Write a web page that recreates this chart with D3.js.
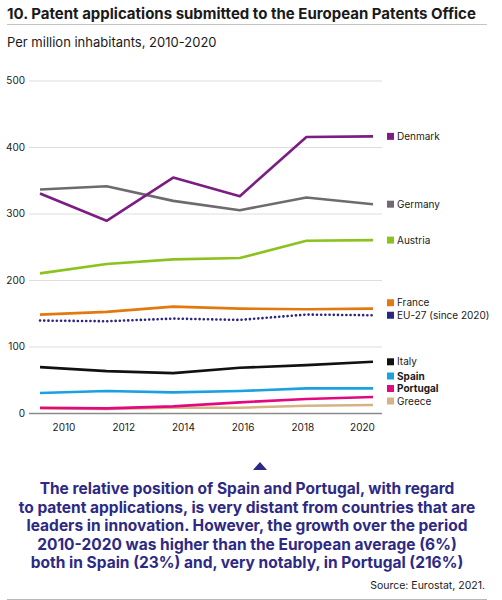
<!DOCTYPE html>
<html>
<head>
<meta charset="utf-8">
<script src="https://cdn.jsdelivr.net/npm/d3@7"></script>
<style>
  html, body { margin: 0; padding: 0; background: #fff; }
  svg { display: block; font-family: Inter, "Open Sans", sans-serif; }
</style>
</head>
<body>
<div class="chart"></div>
<script>
// values (per million inhabitants)
const years = [2010, 2012, 2014, 2016, 2018, 2020]
const countries = ['Denmark', 'Germany', 'Austria', 'France', 'EU-27 (since 2020)', 'Italy', 'Spain', 'Portugal', 'Greece']
const colors = ['#7c1d82', '#6f6a70', '#8cc21e', '#e2790f', '#2b2683', '#111111', '#1aa1df', '#e4087f', '#d4b384']
const denmark  = [330, 289, 354, 326, 415, 416]
const germany  = [336, 341, 319, 305, 324, 314]
const austria  = [210, 224, 231, 233, 259, 260]
const france   = [148, 152, 160, 157, 156, 157]
const eu27     = [139, 138, 142, 140, 148, 147]
const italy    = [69, 63, 60, 68, 72, 77]
const spain    = [30, 33, 31, 33, 37, 37]
const portugal = [8, 7, 10, 16, 21, 24]
const greece   = [7, 6, 8, 8, 11, 12]
const yTicks = [0, 100, 200, 300, 400, 500]
const boldNames = ['Spain', 'Portugal']

const note = [
  'The relative position of Spain and Portugal, with regard',
  'to patent applications, is very distant from countries that are',
  'leaders in innovation. However, the growth over the period',
  '2010-2020 was higher than the European average (6%)',
  'both in Spain (23%) and, very notably, in Portugal (216%)'
]

const values = [denmark, germany, austria, france, eu27, italy, spain, portugal, greece]
const series = countries.map((name, i) => ({ name, color: colors[i], values: values[i] }))

const W = 502, H = 600

let svg = d3.select('.chart')
  .append('svg')
    .attr('width', W)
    .attr('height', H)

// title block
svg.append('text')
    .attr('x', 7).attr('y', 19)
    .attr('font-size', 15).attr('font-weight', 700).attr('fill', '#1a1a1a')
    .text('10. Patent applications submitted to the European Patents Office')
svg.append('line')
    .attr('x1', 7).attr('x2', 487).attr('y1', 24.5).attr('y2', 24.5)
    .attr('stroke', '#c4c4c4').attr('stroke-width', 1)
svg.append('text')
    .attr('x', 7).attr('y', 47)
    .attr('font-size', 13).attr('fill', '#1a1a1a')
    .text('Per million inhabitants, 2010-2020')

let x = d3.scalePoint().domain(years).range([40, 373])
// the year labels sit slightly inside the line ends in the original
let xLab = d3.scalePoint().domain(years).range([63.5, 362])
let y = d3.scaleLinear().domain([0, 500]).range([413, 80.5])

let grid = svg.append('g')
    .attr('transform', 'translate(382,0)')
    .call(d3.axisLeft(y).tickValues(yTicks).tickSize(353).tickPadding(4))
grid.select('.domain').remove()
grid.selectAll('.tick line')
    .attr('stroke', (d) => d === 0 ? '#8a8a8a' : '#d4d4d4')
    .attr('stroke-width', (d) => d === 0 ? 1.3 : 0.8)
grid.selectAll('.tick text')
    .attr('font-size', 10).attr('fill', '#1a1a1a')
    .attr('font-family', 'Inter, sans-serif')

let xAxis = svg.append('g')
    .attr('transform', 'translate(0,420)')
    .call(d3.axisBottom(xLab).tickSize(0).tickPadding(4))
xAxis.select('.domain').remove()
xAxis.selectAll('.tick text')
    .attr('font-size', 10).attr('fill', '#1a1a1a')
    .attr('font-family', 'Inter, sans-serif')

let line = d3.line()
  .x((d, i) => x(years[i]))
  .y((d) => y(d))

// draw bottom-most lines first so Portugal covers Greece etc.
svg.append('g')
  .selectAll('path')
  .data(series.slice().reverse())
  .enter()
  .append('path')
    .attr('d', (d) => line(d.values))
    .attr('fill', 'none')
    .attr('stroke', (d) => d.color)
    .attr('stroke-width', 2.6)
    .attr('stroke-linecap', (d) => d.name.startsWith('EU') ? 'round' : 'butt')
    .attr('stroke-linejoin', 'round')
    .attr('stroke-dasharray', (d) => d.name.startsWith('EU') ? '0.1,4.1' : null)

// legend labels: start at last value, then push apart from the bottom up
let labels = series.map((d) => ({ ...d, ly: y(d.values[d.values.length - 1]) }))
let order = labels.slice().sort((a, b) => b.ly - a.ly)
let limit = 401
order.forEach((d) => {
  d.ly = Math.min(d.ly, limit)
  limit = d.ly - 12.5
})

let leg = svg.append('g')
  .selectAll('g')
  .data(labels)
  .enter()
  .append('g')
    .attr('transform', (d) => 'translate(387,' + d.ly + ')')
leg.append('rect')
    .attr('x', 0).attr('y', -3.5)
    .attr('width', 7).attr('height', 7)
    .attr('fill', (d) => d.color)
leg.append('text')
    .attr('x', 10).attr('dy', '0.35em')
    .attr('font-size', 10)
    .attr('font-weight', (d) => boldNames.includes(d.name) ? 700 : 400)
    .attr('fill', '#1a1a1a')
    .text((d) => d.name)

// annotation
let tri = d3.path()
tri.moveTo(253, 470)
tri.lineTo(260, 462)
tri.lineTo(267, 470)
tri.closePath()
svg.append('path').attr('d', tri.toString()).attr('fill', '#2e2a84')

svg.append('g')
  .selectAll('text')
  .data(note)
  .enter()
  .append('text')
    .attr('x', 247)
    .attr('y', (d, i) => 494 + i * 18.5)
    .attr('text-anchor', 'middle')
    .attr('font-size', 15.5).attr('font-weight', 700)
    .attr('fill', '#2e2a84')
    .text((d) => d)

svg.append('text')
    .attr('x', 485).attr('y', 589)
    .attr('text-anchor', 'end')
    .attr('font-size', 10.5).attr('fill', '#1a1a1a')
    .text('Source: Eurostat, 2021.')
svg.append('line')
    .attr('x1', 7).attr('x2', 487).attr('y1', 599.5).attr('y2', 599.5)
    .attr('stroke', '#b8b8b8').attr('stroke-width', 1)
</script>
</body>
</html>
